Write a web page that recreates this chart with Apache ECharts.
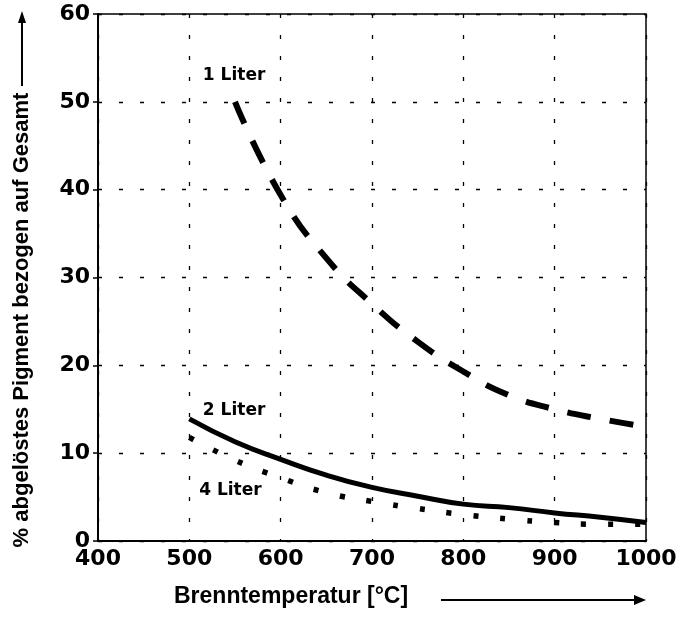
<!DOCTYPE html>
<html>
<head>
<meta charset="utf-8">
<script src="https://cdn.jsdelivr.net/npm/echarts@6/dist/echarts.min.js"></script>
<style>
html,body{margin:0;padding:0;background:#fff;}
#chart{width:683px;height:623px;}
</style>
</head>
<body>
<div id="chart"></div>
<script>
// Data
const temps1 = [550, 600, 650, 700, 750, 800, 850, 900, 950, 1000];
const liter1 = [50.0, 39.4, 32.2, 27.0, 22.7, 19.3, 16.6, 15.0, 13.9, 13.0];
const temps2 = [500, 550, 600, 650, 700, 750, 800, 850, 900, 950, 1000];
const liter2 = [13.9, 11.3, 9.3, 7.5, 6.1, 5.1, 4.2, 3.8, 3.2, 2.7, 2.1];
const temps4 = [500, 550, 600, 650, 700, 750, 800, 850, 900, 950, 1000];
const liter4 = [11.8, 9.2, 7.2, 5.5, 4.5, 3.7, 3.0, 2.5, 2.1, 1.9, 1.9];
const seriesNames = ['1 Liter', '2 Liter', '4 Liter'];
const labelCoords = [[549, 53.0], [549, 14.9], [545, 5.7]];
const xTicks = [400, 500, 600, 700, 800, 900, 1000];
const yTicks = [0, 10, 20, 30, 40, 50, 60];
const xTitle = 'Brenntemperatur [°C]';
const yTitle = '% abgelöstes Pigment bezogen auf Gesamt';

const zip = (xs, ys) => xs.map((x, i) => [x, ys[i]]);
const labelFont = {fontFamily: 'DejaVu Sans', fontWeight: 'bold', fontSize: 22, color: '#000'};
const gridLine = {show: true, lineStyle: {color: '#000', width: 1.3, type: [4, 17]}};

function labelPoint(i) {
  return {
    symbol: 'circle',
    symbolSize: 1,
    silent: true,
    itemStyle: {color: 'rgba(0,0,0,0)'},
    label: {show: true, position: 'inside', formatter: seriesNames[i],
      fontFamily: 'DejaVu Sans', fontWeight: 'bold', fontSize: 17, color: '#000'},
    data: [{coord: labelCoords[i], value: seriesNames[i]}]
  };
}

const chart = echarts.init(document.getElementById('chart'), null, {renderer: 'canvas'});
chart.setOption({
  animation: false,
  backgroundColor: '#fff',
  grid: {left: 98, top: 14, width: 548, height: 527, show: true, borderColor: '#000', borderWidth: 1.5},
  xAxis: {
    type: 'value', min: 400, max: 1000, interval: 100,
    axisLine: {show: true, lineStyle: {color: '#000', width: 2}},
    axisTick: {show: false},
    axisLabel: Object.assign({margin: 7, formatter: v => xTicks.includes(v) ? String(v) : ''}, labelFont),
    splitLine: gridLine
  },
  yAxis: {
    type: 'value', min: 0, max: 60, interval: 10,
    axisLine: {show: true, lineStyle: {color: '#000', width: 2}},
    axisTick: {show: true, length: 5, lineStyle: {color: '#000', width: 1.5}},
    axisLabel: Object.assign({margin: 8, formatter: v => yTicks.includes(v) ? String(v) : ''}, labelFont),
    splitLine: gridLine
  },
  series: [
    {
      name: seriesNames[0], type: 'line', smooth: true, symbol: 'none',
      data: zip(temps1, liter1),
      lineStyle: {color: '#000', width: 6, type: [24, 19], cap: 'butt'},
      markPoint: labelPoint(0)
    },
    {
      name: seriesNames[1], type: 'line', smooth: true, symbol: 'none',
      data: zip(temps2, liter2),
      lineStyle: {color: '#000', width: 5, type: 'solid'},
      markPoint: labelPoint(1)
    },
    {
      name: seriesNames[2], type: 'line', smooth: true, symbol: 'none',
      data: zip(temps4, liter4),
      lineStyle: {color: '#000', width: 5.5, type: [5, 22], cap: 'butt'},
      markPoint: labelPoint(2)
    }
  ],
  graphic: [
    {
      type: 'text', left: 174, top: 585,
      style: {text: xTitle, fontFamily: 'Liberation Sans', fontWeight: 'bold', fontSize: 23, fill: '#000'}
    },
    {type: 'line', shape: {x1: 441, y1: 600, x2: 636, y2: 600}, style: {stroke: '#000', lineWidth: 2}},
    {type: 'polygon', shape: {points: [[646, 600], [634, 595], [634, 605]]}, style: {fill: '#000'}},
    {
      type: 'text', x: 22, y: 320, rotation: Math.PI / 2,
      style: {text: yTitle, fontFamily: 'Liberation Sans', fontWeight: 'bold', fontSize: 22, fill: '#000',
        align: 'center', verticalAlign: 'middle'}
    },
    {type: 'line', shape: {x1: 22, y1: 86, x2: 22, y2: 22}, style: {stroke: '#000', lineWidth: 2}},
    {type: 'polygon', shape: {points: [[22, 11], [18, 23], [26, 23]]}, style: {fill: '#000'}}
  ]
});
</script>
</body>
</html>
